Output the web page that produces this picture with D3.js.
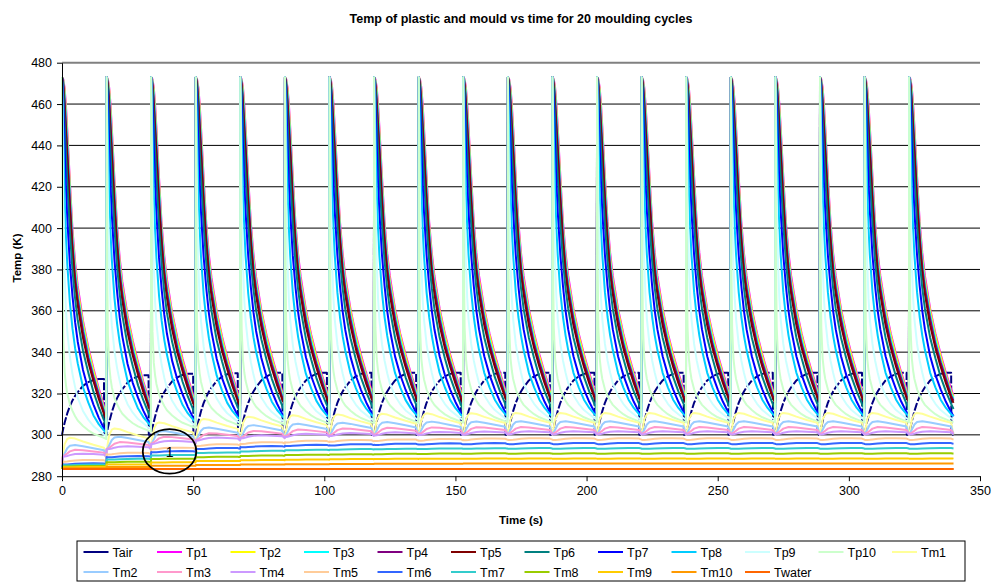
<!DOCTYPE html>
<html><head><meta charset="utf-8">
<script src="https://cdn.jsdelivr.net/npm/d3@7"></script>
<style>
body{margin:0;background:#fff}
text{font-family:"Liberation Sans",Arial,sans-serif;fill:#000}
</style>
</head><body>
<svg id="c" width="994" height="583"></svg>
<script>
// ---------------- data ----------------
const cycleStarts = [0,17,34,51,68,85,102,119,136,153,170,187,204,221,238,255,272,289,306,323];
const xTicks = [0,50,100,150,200,250,300,350];
const yTicks = [280,300,320,340,360,380,400,420,440,460,480];
const seriesNames = ["Tair","Tp1","Tp2","Tp3","Tp4","Tp5","Tp6","Tp7","Tp8","Tp9","Tp10","Tm1",
                     "Tm2","Tm3","Tm4","Tm5","Tm6","Tm7","Tm8","Tm9","Tm10","Twater"];
const seriesColors = ["#000080","#FF00FF","#FFFF00","#00FFFF","#800080","#800000","#008080","#0000FF",
                      "#00CCFF","#CCFFFF","#CCFFCC","#FFFF99","#99CCFF","#FF99CC","#CC99FF","#FFCC99",
                      "#3366FF","#33CCCC","#99CC00","#FFCC00","#FF9900","#FF6600"];

// Tair: time within a cycle (s) and steady-state values (K)
const sAir  = [0,0.5,1,2,3,4,5,6,8,10,12,14,16,16.1,16.9];
const tair  = [300,303.5,306.5,311.5,315.5,318.5,321,323,326.3,328.3,329.5,330,330,300,300];
const airShift = [-3,-1.2,-0.5,-0.2,0,0,0,0,0,0,0,0,0,0,0,0,0,0,0,0];

// Plastic nodes: time within a cycle and steady-state values
const sTp  = [0,0.25,0.5,1,1.5,2,3,4,5,6,8,10,12,14,16,16.9];
const tp1  = [473,472.6,472,468,460,449,425,403,388,377,361,349,339,330,322,319];
const tp2  = [473,472.5,471.5,467,458,447,423,401,386,375,360,348,338,329,321,318.5];
const tp3  = [473,472.3,471,465,455,444,420,399,384,373,358,346,336,328,320,317.5];
const tp4  = [473,472,470,462,451,440,416,396,381,371,356,344,335,327,319,316.5];
const tp5  = [473,471.5,469,459,447,436,412,393,378,368,353,342,333,325,318,315.5];
const tp6  = [473,470,466,452,438,425,402,384,371,361,347,337,328,321,315,312.5];
const tp7  = [473,467,460,440,422,408,387,372,360,351,338,329,322,316,311,309];
const tp8  = [473,460,445,418,400,387,369,357,348,341,330,323,317,313,310,309];
const tp9  = [473,440,412,383,366,356,344,336,330,325,319,315,312,310,308,307.5];
const tp10 = [473,380,352,337,331,327,322,319,316.5,314.5,312,310,308.5,307.5,306.5,306];
const tpShift = [-8,-4.5,-2.7,-1.6,-1,-0.6,-0.35,-0.2,-0.1,0,0,0,0,0,0,0,0,0,0,0];

// Mould nodes: time within a cycle and steady-state values, plus warm-up offset per cycle
const sTm  = [0,0.3,1,2,3,5,8,12,16,16.5,16.9];
const tm1  = [300,302,307.5,310,310.6,310.2,308.8,307.2,305.8,302.5,300.2];
const tm2  = [300.3,300.8,302.5,305,306.2,306.6,306,305,304,301.8,300.5];
const tm3  = [300.5,300.6,301,302,303,303.8,303.6,303,302.4,301.3,300.7];
const tm4  = [300.2,300.2,300.3,300.6,301,301.5,301.7,301.5,301.2,300.7,300.3];
const tm5  = [297.6,297.5,297.5,297.6,297.8,298.1,298.3,298.3,298.2,297.9,297.7];
const tm6  = [295.6,295.5,295.5,295.5,295.6,295.8,296,296.1,296,295.8,295.7];
const tm7  = [293.3,293.3,293.3,293.3,293.3,293.4,293.5,293.6,293.6,293.5,293.4];
const tm8  = [290.9,290.9,290.9,290.9,290.9,291,291.1,291.1,291.1,291,291];
const tm9  = [288.5,288.5,288.5,288.5,288.5,288.5,288.6,288.6,288.6,288.6,288.5];
const tm10 = [286.1,286.1,286.1,286.1,286.1,286.1,286.1,286.1,286.1,286.1,286.1];
const tm1Off  = [-12,-7.5,-4.6,-2.9,-1.8,-1.1,-0.7,-0.4,-0.2,-0.1,0,0,0,0,0,0,0,0,0,0];
const tm2Off  = [-11.5,-7.5,-4.7,-3,-1.9,-1.2,-0.7,-0.4,-0.2,-0.1,0,0,0,0,0,0,0,0,0,0];
const tm3Off  = [-11,-7.3,-4.7,-3,-1.9,-1.2,-0.7,-0.4,-0.2,-0.1,0,0,0,0,0,0,0,0,0,0];
const tm4Off  = [-10.8,-7.2,-4.6,-3,-1.9,-1.2,-0.8,-0.5,-0.3,-0.1,0,0,0,0,0,0,0,0,0,0];
const tm5Off  = [-10.5,-7,-4.5,-2.9,-1.9,-1.2,-0.8,-0.5,-0.3,-0.1,0,0,0,0,0,0,0,0,0,0];
const tm6Off  = [-9.8,-6.3,-3.9,-2.4,-1.5,-0.9,-0.6,-0.35,-0.2,-0.1,0,0,0,0,0,0,0,0,0,0];
const tm7Off  = [-8,-5.2,-3.3,-2.1,-1.3,-0.8,-0.5,-0.3,-0.15,-0.05,0,0,0,0,0,0,0,0,0,0];
const tm8Off  = [-6.2,-4.1,-2.6,-1.7,-1.1,-0.7,-0.45,-0.25,-0.12,-0.05,0,0,0,0,0,0,0,0,0,0];
const tm9Off  = [-4.2,-2.9,-1.9,-1.2,-0.8,-0.5,-0.3,-0.2,-0.1,0,0,0,0,0,0,0,0,0,0,0];
const tm10Off = [-2.2,-1.6,-1.1,-0.7,-0.45,-0.3,-0.2,-0.1,-0.05,0,0,0,0,0,0,0,0,0,0,0];
const tmStart = 283.5;
const twaterT = [0,340];
const twater  = [283.5,283.5];

// annotation (ellipse with label "1")
const annot = {t:41, k:292, dt:10.2, dk:10.8, label:"1"};

// ---------------- build ----------------
function buildTp(p){
  const end = p[p.length-1], pts=[];
  cycleStarts.forEach((t0,c)=>sTp.forEach((s,j)=>{
    const w=(473-p[j])/(473-end);
    pts.push([t0+s, p[j]+tpShift[c]*w]);
  }));
  return pts;
}
function buildAir(){
  const pts=[];
  cycleStarts.forEach((t0,c)=>sAir.forEach((s,j)=>{
    pts.push([t0+s, tair[j]+airShift[c]*(tair[j]-300)/30]);
  }));
  return pts;
}
function buildTm(p,off){
  const pts=[];
  cycleStarts.forEach((t0,c)=>sTm.forEach((s,j)=>{
    pts.push([t0+s, (c===0&&j===0)?tmStart:p[j]+off[c]]);
  }));
  return pts;
}
const seriesData = [
  buildAir(),
  buildTp(tp1),buildTp(tp2),buildTp(tp3),buildTp(tp4),buildTp(tp5),
  buildTp(tp6),buildTp(tp7),buildTp(tp8),buildTp(tp9),buildTp(tp10),
  buildTm(tm1,tm1Off),buildTm(tm2,tm2Off),buildTm(tm3,tm3Off),buildTm(tm4,tm4Off),buildTm(tm5,tm5Off),
  buildTm(tm6,tm6Off),buildTm(tm7,tm7Off),buildTm(tm8,tm8Off),buildTm(tm9,tm9Off),buildTm(tm10,tm10Off),
  twaterT.map((t,i)=>[t,twater[i]])
];

// ---------------- draw ----------------
const svg = d3.select("#c");
const L=62, R=980, T=62.7, B=476.2;
const x = d3.scaleLinear().domain([0,350]).range([L,R]);
const y = d3.scaleLinear().domain([280,480]).range([B,T]);

// gridlines
svg.append("g").selectAll("line").data(yTicks.filter(v=>v>280&&v<480)).join("line")
  .attr("x1",L).attr("x2",R).attr("y1",d=>y(d)).attr("y2",d=>y(d))
  .attr("stroke","#000").attr("stroke-width",1);
svg.append("line").attr("x1",L).attr("x2",R).attr("y1",T).attr("y2",T)
  .attr("stroke","#808080").attr("stroke-width",2);

// series
const line = d3.line().x(d=>x(d[0])).y(d=>y(d[1]));
const gS = svg.append("g");
seriesData.forEach((d,i)=>{
  gS.append("path").attr("d",line(d)).attr("fill","none")
    .attr("stroke",seriesColors[i]).attr("stroke-width",2)
    .attr("stroke-linejoin","round")
    .attr("stroke-dasharray", i===0?"8,2":null);
});

// annotation
svg.append("ellipse")
  .attr("cx",x(annot.t)).attr("cy",y(annot.k))
  .attr("rx",x(annot.t+annot.dt)-x(annot.t)).attr("ry",y(annot.k)-y(annot.k+annot.dk))
  .attr("fill","none").attr("stroke","#000").attr("stroke-width",1.8);
svg.append("text").attr("x",x(annot.t)).attr("y",y(annot.k)).attr("dy","0.38em")
  .attr("text-anchor","middle").attr("font-size",14).attr("fill","#222").text(annot.label);

// axes
const xAxis = d3.axisBottom(x).tickValues(xTicks).tickSize(5).tickSizeOuter(0);
const gx = svg.append("g").attr("transform",`translate(0,${B})`).call(xAxis);
gx.selectAll("text").attr("font-size",12.5).attr("dy","0.85em");
gx.selectAll("line,path").attr("stroke","#000");
const yAxis = d3.axisLeft(y).tickValues(yTicks).tickSize(5).tickSizeOuter(0);
const gy = svg.append("g").attr("transform",`translate(${L},0)`).call(yAxis);
gy.selectAll("text").attr("font-size",12.5).attr("x",-10);
gy.selectAll("line,path").attr("stroke","#000");
svg.selectAll(".domain").attr("stroke","#000");

// titles
svg.append("text").attr("x",521).attr("y",23).attr("text-anchor","middle")
  .attr("font-size",12.5).attr("font-weight","bold")
  .text("Temp of plastic and mould vs time for 20 moulding cycles");
svg.append("text").attr("x",521).attr("y",524).attr("text-anchor","middle")
  .attr("font-size",11.5).attr("font-weight","bold").text("Time (s)");
svg.append("text").attr("transform","translate(21,258) rotate(-90)").attr("text-anchor","middle")
  .attr("font-size",11.5).attr("font-weight","bold").text("Temp (K)");

// legend
const lg = svg.append("g");
lg.append("rect").attr("x",77).attr("y",541).attr("width",888).attr("height",40)
  .attr("fill","#fff").attr("stroke","#000").attr("stroke-width",1);
seriesNames.forEach((n,i)=>{
  const col = i<12 ? i : i-12, row = i<12 ? 0 : 1;
  const lx = 83.5 + col*73.5, ly = 552 + row*20;
  lg.append("line").attr("x1",lx).attr("x2",lx+25).attr("y1",ly).attr("y2",ly)
    .attr("stroke",seriesColors[i]).attr("stroke-width",2);
  lg.append("text").attr("x",lx+29).attr("y",ly).attr("dy","0.36em")
    .attr("font-size",12.5).text(n);
});
</script>
</body></html>
